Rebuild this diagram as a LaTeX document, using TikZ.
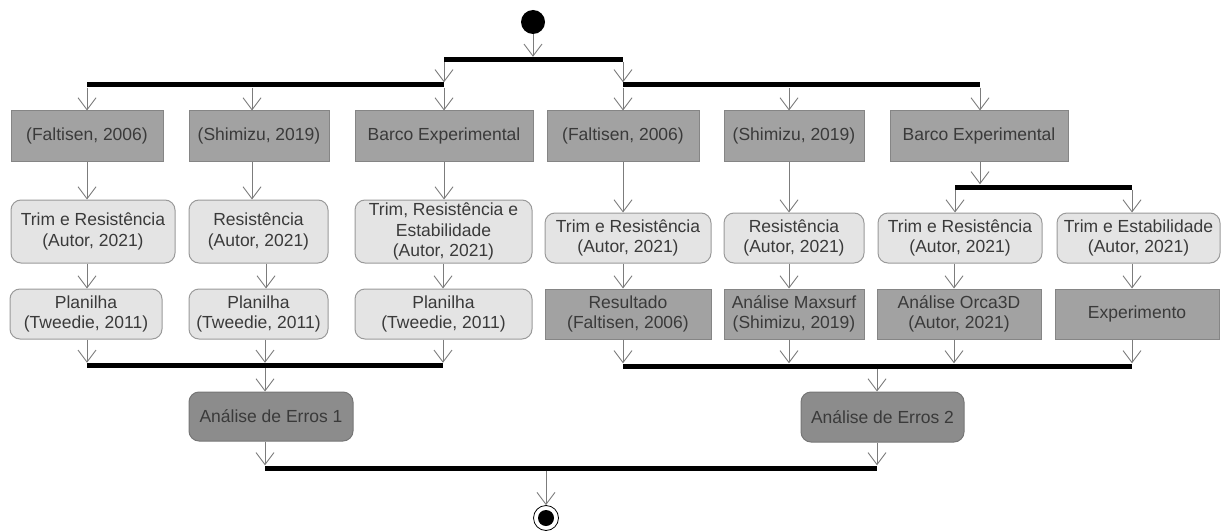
\documentclass[tikz,border=0pt]{standalone}
\usepackage{fontspec}
\setmainfont{Liberation Sans}
\usetikzlibrary{arrows.meta}
\definecolor{txt}{HTML}{3A3A3A}
\definecolor{dkfill}{HTML}{A2A2A2}
\definecolor{dkline}{HTML}{858585}
\definecolor{ltfill}{HTML}{E4E4E4}
\definecolor{ltline}{HTML}{9A9A9A}
\definecolor{erfill}{HTML}{8C8C8C}
\definecolor{erline}{HTML}{767676}
\definecolor{wire}{HTML}{7C7C7C}
\tikzset{
  x=1pt, y=-1pt,
  base/.style={rectangle, inner sep=0pt, align=center, text=txt,
    font=\fontsize{17.5}{20.5}\selectfont, line width=1pt},
  dbox/.style={base, fill=dkfill, draw=dkline},
  lbox/.style={base, rounded corners=10pt, fill=ltfill, draw=ltline},
  ebox/.style={base, rounded corners=10pt, fill=erfill, draw=erline},
  bar/.style={rectangle, fill=black, draw=none, inner sep=0pt, minimum height=5pt},
  arr/.style={draw=wire, line width=0.9pt,
    -{Straight Barb[length=12pt,width=18pt,line width=0.9pt]}},
}
% vertical connector at a given x between two anchors
\newcommand\drop[3]{\draw[arr] (#1 -| #3,0) -- (#2 -| #3,0);}
\begin{document}
\begin{tikzpicture}
\useasboundingbox (0,0) rectangle (1222,532);

% start / end
\node[circle, fill=black, minimum size=24pt, inner sep=0pt] (start) at (533,22) {};
\node[circle, fill=white, draw=black, line width=0.8pt, minimum size=25pt, inner sep=0pt] (stop) at (546,518) {};
\node[circle, fill=black, minimum size=16pt, inner sep=0pt] (stopin) at (546,518) {};

% fork / join bars
\node[bar, minimum width=179pt] (top)   at (533.5,59.5) {};
\node[bar, minimum width=357pt] (barL)  at (265.5,85) {};
\node[bar, minimum width=357pt] (barR)  at (801.5,85) {};
\node[bar, minimum width=177pt] (sub)   at (1043.5,187) {};
\node[bar, minimum width=356pt] (joinL) at (265,365.5) {};
\node[bar, minimum width=509pt] (joinR) at (877.5,366) {};
\node[bar, minimum width=612pt] (fin)   at (571,468) {};

% row 1
\node[dbox, minimum width=152pt, minimum height=50pt] (f1) at (87,136)  {(Faltisen, 2006)};
\node[dbox, minimum width=140pt, minimum height=50pt] (s1) at (259,136) {(Shimizu, 2019)};
\node[dbox, minimum width=178pt, minimum height=50pt] (b1) at (444,136) {Barco Experimental};
\node[dbox, minimum width=152pt, minimum height=50pt] (f2) at (623,136) {(Faltisen, 2006)};
\node[dbox, minimum width=140pt, minimum height=50pt] (s2) at (794,136) {(Shimizu, 2019)};
\node[dbox, minimum width=178pt, minimum height=50pt] (b2) at (979,136) {Barco Experimental};

% row 2
\node[lbox, minimum width=164pt, minimum height=63pt] (tr1) at (93,231.5)    {Trim e Resistência\\(Autor, 2021)};
\node[lbox, minimum width=139pt, minimum height=63pt] (re1) at (258.5,231.5) {Resistência\\(Autor, 2021)};
\node[lbox, minimum width=177pt, minimum height=63pt] (te1) at (443.5,231.5) {Trim, Resistência e\\Estabilidade\\(Autor, 2021)};
\node[lbox, minimum width=166pt, minimum height=50pt] (tr2) at (628,238)     {Trim e Resistência\\(Autor, 2021)};
\node[lbox, minimum width=140pt, minimum height=50pt] (re2) at (794,238)     {Resistência\\(Autor, 2021)};
\node[lbox, minimum width=164pt, minimum height=50pt] (tr3) at (960,238)     {Trim e Resistência\\(Autor, 2021)};
\node[lbox, minimum width=163pt, minimum height=50pt] (es3) at (1138.5,238)  {Trim e Estabilidade\\(Autor, 2021)};

% row 3
\node[lbox, minimum width=152pt, minimum height=50pt] (p1)  at (86,314)    {Planilha\\(Tweedie, 2011)};
\node[lbox, minimum width=139pt, minimum height=50pt] (p2)  at (258.5,314) {Planilha\\(Tweedie, 2011)};
\node[lbox, minimum width=177pt, minimum height=50pt] (p3)  at (443.5,314) {Planilha\\(Tweedie, 2011)};
\node[dbox, minimum width=166pt, minimum height=50pt] (res) at (628,314)   {Resultado\\(Faltisen, 2006)};
\node[dbox, minimum width=140pt, minimum height=50pt] (mx)  at (794,314)   {Análise Maxsurf\\(Shimizu, 2019)};
\node[dbox, minimum width=164pt, minimum height=50pt] (orc) at (959,314)   {Análise Orca3D\\(Autor, 2021)};
\node[dbox, minimum width=164pt, minimum height=50pt] (exp) at (1137,314)  {Experimento};

% error analyses
\node[ebox, minimum width=164pt, minimum height=49pt] (an1) at (271,416.5) {Análise de Erros 1};
\node[ebox, minimum width=163pt, minimum height=50pt] (an2) at (882.5,417) {Análise de Erros 2};

% connectors
\drop{start.south}{top.north}{533}
\drop{top.south}{barL.north}{444}
\drop{top.south}{barR.north}{623}
\drop{barL.south}{f1.north}{87}
\drop{barL.south}{s1.north}{252}
\drop{barL.south}{b1.north}{444}
\drop{barR.south}{f2.north}{623}
\drop{barR.south}{s2.north}{789}
\drop{barR.south}{b2.north}{980}
\drop{f1.south}{tr1.north}{87}
\drop{s1.south}{re1.north}{252}
\drop{b1.south}{te1.north}{444}
\drop{f2.south}{tr2.north}{623}
\drop{s2.south}{re2.north}{789}
\drop{b2.south}{sub.north}{980}
\drop{sub.south}{tr3.north}{955}
\drop{sub.south}{es3.north}{1132}
\drop{tr1.south}{p1.north}{87}
\drop{re1.south}{p2.north}{266}
\drop{te1.south}{p3.north}{443}
\drop{tr2.south}{res.north}{623}
\drop{re2.south}{mx.north}{789}
\drop{tr3.south}{orc.north}{954}
\drop{es3.south}{exp.north}{1132}
\drop{p1.south}{joinL.north}{87}
\drop{p2.south}{joinL.north}{265}
\drop{p3.south}{joinL.north}{443}
\drop{res.south}{joinR.north}{623}
\drop{mx.south}{joinR.north}{789}
\drop{orc.south}{joinR.north}{954}
\drop{exp.south}{joinR.north}{1132}
\drop{joinL.south}{an1.north}{265}
\drop{joinR.south}{an2.north}{877}
\drop{an1.south}{fin.north}{265}
\drop{an2.south}{fin.north}{877}
\drop{fin.south}{stop.north}{546}
\end{tikzpicture}
\end{document}
